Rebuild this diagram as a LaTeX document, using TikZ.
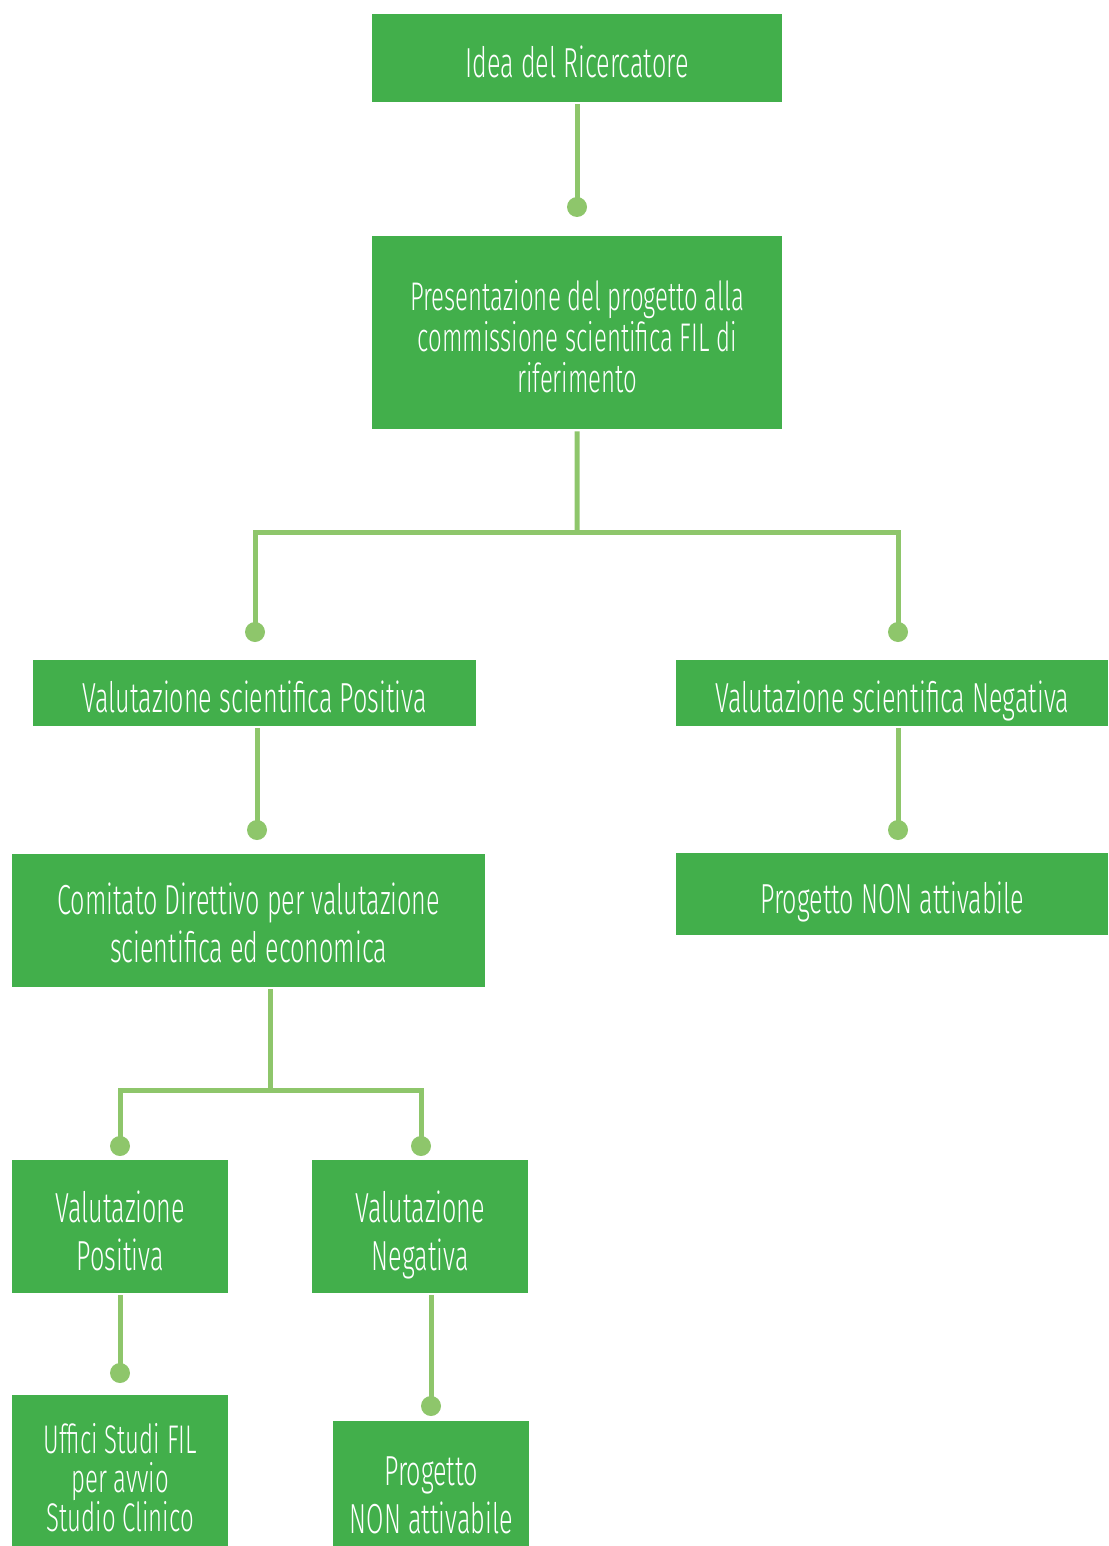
\documentclass[tikz,border=0pt]{standalone}
\usepackage{fontspec}
\setmainfont{Fira Sans}[UprightFont=* Light, FakeStretch=0.6]
\usetikzlibrary{positioning}
\definecolor{boxgreen}{RGB}{66,175,75}
\definecolor{linegreen}{RGB}{142,198,107}
\newcommand{\lift}[1]{\rule{0pt}{#1pt}}
\tikzset{
  box/.style  = {rectangle, fill=boxgreen, text=white, align=center,
                 inner sep=0pt, anchor=north west,
                 font=\fontsize{42}{48}\selectfont},
  oneline/.style = {box, text height=38pt, text depth=0pt},
  dot/.style  = {circle, fill=linegreen, minimum size=20pt, inner sep=0pt},
  conn/.style = {draw=linegreen, line width=5pt, shorten <=2pt}
}
\begin{document}
\begin{tikzpicture}[x=1pt,y=-1pt]
  \useasboundingbox (0,0) rectangle (1108,1546);

  % boxes
  \node[oneline,minimum width=410pt,minimum height=88pt] (idea) at (372,14) {Idea del Ricercatore};
  \node[box,minimum width=410pt,minimum height=193pt,
        font=\fontsize{40}{41}\selectfont] (pres) at (372,236)
        {\lift{38}Presentazione del progetto alla\\commissione scientifica FIL di\\riferimento};
  \node[oneline,minimum width=443pt,minimum height=66pt] (vsp) at (33,660) {Valutazione scientifica Positiva};
  \node[oneline,minimum width=432pt,minimum height=66pt] (vsn) at (676,660) {Valutazione scientifica Negativa};
  \node[box,minimum width=473pt,minimum height=133pt] (comit) at (12,854)
        {\lift{37}Comitato Direttivo per valutazione\\scientifica ed economica};
  \node[oneline,minimum width=432pt,minimum height=82pt] (nonA) at (676,853) {Progetto NON attivabile};
  \node[box,minimum width=216pt,minimum height=133pt] (vp) at (12,1160) {\lift{40}Valutazione\\Positiva};
  \node[box,minimum width=216pt,minimum height=133pt] (vn) at (312,1160) {\lift{49}Valutazione\\Negativa};
  \node[box,minimum width=216pt,minimum height=151pt,
        font=\fontsize{40}{39}\selectfont] (uff) at (12,1395)
        {\lift{45}Uffici Studi FIL\\per avvio\\Studio Clinico};
  \node[box,minimum width=196pt,minimum height=125pt] (nonB) at (333,1421) {\lift{52}Progetto\\NON attivabile};

  % dots
  \node[dot] (d1) at (577,207) {};
  \node[dot] (d2) at (255,632) {};
  \node[dot] (d3) at (898,632) {};
  \node[dot] (d4) at (257,830) {};
  \node[dot] (d5) at (898,830) {};
  \node[dot] (d6) at (120,1146) {};
  \node[dot] (d7) at (421,1146) {};
  \node[dot] (d8) at (120,1373) {};
  \node[dot] (d9) at (431,1406) {};
  \coordinate (br1) at (577,532);
  \coordinate (br2) at (270,1090);

  % connectors
  \draw[conn] (idea.south -| d1) -- (d1.center);
  \draw[conn] (pres.south) -- (br1);
  \draw[conn,shorten <=0pt] (d2.center) |- (br1) -| (d3.center);
  \draw[conn] (vsp.south -| d4) -- (d4.center);
  \draw[conn] (vsn.south -| d5) -- (d5.center);
  \draw[conn] (comit.south -| br2) -- (br2);
  \draw[conn,shorten <=0pt] (d6.center) |- (br2) -| (d7.center);
  \draw[conn] (vp.south -| d8) -- (d8.center);
  \draw[conn] (vn.south -| d9) -- (d9.center);
\end{tikzpicture}
\end{document}
